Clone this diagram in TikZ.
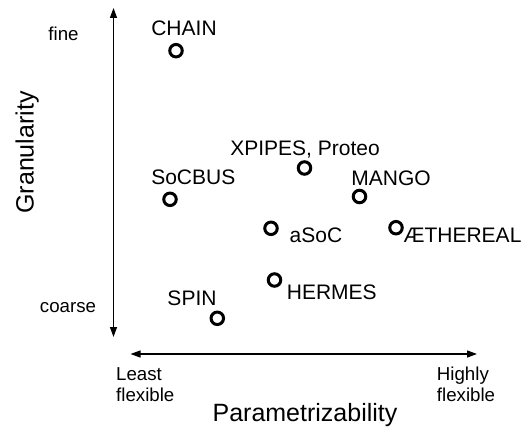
\documentclass[tikz,border=0pt]{standalone}
\usepackage{fontspec}
\setmainfont{Liberation Sans}
\usetikzlibrary{arrows.meta}
\begin{document}
\begin{tikzpicture}[x=1pt,y=-1pt,
  axisline/.style={line width=1.3pt,{Triangle[length=10pt,width=7pt]}-{Triangle[length=10pt,width=7pt]}},
  dot/.style={circle,draw,line width=3pt,minimum size=12.5pt,inner sep=0pt},
  lbl/.style={anchor=base,inner sep=0pt,font=\fontsize{21}{25}\selectfont},
  tick/.style={anchor=base west,inner sep=0pt,font=\fontsize{18.7}{20}\selectfont},
  ticklbl/.style={anchor=base,inner sep=0pt,font=\fontsize{18.7}{20}\selectfont},
  title/.style={anchor=base,inner sep=0pt,font=\fontsize{25}{28}\selectfont}]
\useasboundingbox (0,0) rectangle (529,436);

% axes
\coordinate (ytop) at (113.5,8);
\coordinate (ybot) at (113.5,337);
\coordinate (xleft) at (130.5,354);
\coordinate (xright) at (477,354);
\draw[axisline] (ybot) -- (ytop);
\draw[axisline] (xleft) -- (xright);

% axis titles and end labels
\node[title,rotate=90] (gran) at (33.5,152.5) {Granularity};
\node[title] (param) at (305,421.7) {Parametrizability};
\node[ticklbl] (fine) at (63.5,40.7) {fine};
\node[ticklbl] (coarse) at (68,312) {coarse};
\node[tick] (least) at (116,380) {Least};
\node[tick] (leastf) at (116,401.7) {flexible};
\node[tick] (high) at (436.7,380) {Highly};
\node[tick] (highf) at (436.7,401.7) {flexible};

% networks
\node[dot] (chain) at (176,50.7) {};
\node[lbl] (chainl) at (184,35) {CHAIN};
\node[dot] (xpipes) at (304.5,168) {};
\node[lbl] (xpipesl) at (305,155.7) {XPIPES, Proteo};
\node[dot] (socbus) at (170,199.3) {};
\node[lbl] (socbusl) at (193.3,184) {SoCBUS};
\node[dot] (mango) at (359.5,196.5) {};
\node[lbl] (mangol) at (391,185.7) {MANGO};
\node[dot] (asoc) at (271,228.3) {};
\node[lbl] (asocl) at (316,242.3) {aSoC};
\node[dot] (aeth) at (396,227.7) {};
\node[lbl] (aethl) at (462.5,242.3) {ÆTHEREAL};
\node[dot] (hermes) at (274.5,280) {};
\node[lbl] (hermesl) at (331.8,299) {HERMES};
\node[dot] (spin) at (217.3,318.3) {};
\node[lbl] (spinl) at (192,305.7) {SPIN};
\end{tikzpicture}
\end{document}
